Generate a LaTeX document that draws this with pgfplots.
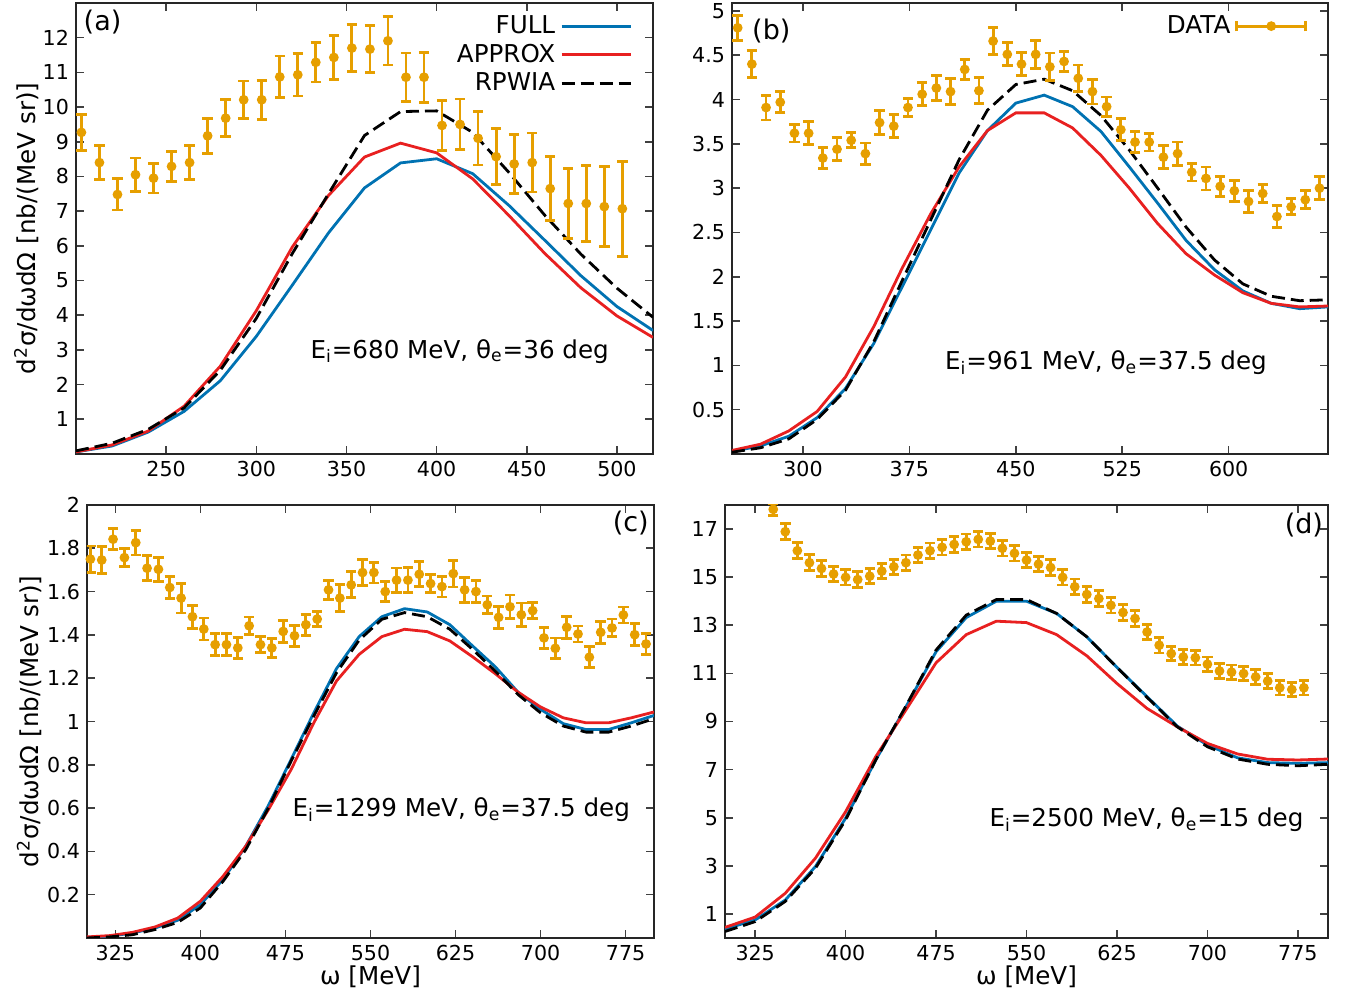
\documentclass[border=0pt]{standalone}
\usepackage{fontspec}
\setmainfont{DejaVu Sans}
\usepackage{pgfplots}
\pgfplotsset{compat=1.18}
\definecolor{cfull}{RGB}{0,114,178}
\definecolor{capprox}{RGB}{232,32,32}
\definecolor{cdata}{RGB}{230,159,0}
\tikzset{lab/.style={font=\fontsize{12.3}{14}\selectfont},
  plab/.style={font=\fontsize{13.5}{15}\selectfont}}
\pgfplotsset{
  myaxis/.style={
    scale only axis,
    axis line style={black!85, line width=0.9pt},
    tick style={black!75, line width=0.8pt},
    major tick length=4pt,
    tick align=inside,
    tick label style={font=\fontsize{10.3}{12}\selectfont},
    /pgf/number format/assume math mode=true,
    label style={font=\fontsize{12.3}{14}\selectfont},
    legend image code/.code={\draw[#1] (0pt,0pt) -- (34.5pt,0pt);},
    legend style={draw=none, fill=none, inner sep=0pt, outer sep=0pt,
      font=\fontsize{12.3}{14}\selectfont, row sep=-1.2pt,
      nodes={inner sep=2.5pt}},
    legend plot pos=right, legend cell align=right,
  },
  curve/.style={line width=1.4pt, no marks},
  full/.style={curve, cfull},
  approx/.style={curve, capprox},
  rpwia/.style={curve, black, dash pattern=on 6.5pt off 3pt},
  data/.style={cdata, only marks, mark=*, mark size=1.7pt, line width=1.4pt,
     mark options={solid, fill=cdata, draw=cdata},
     error bars/y dir=both, error bars/y explicit,
     error bars/error bar style={line width=1.4pt, cdata},
     error bars/error mark options={rotate=90, line width=1.4pt, mark size=2.6pt, cdata}},
}
\begin{document}
\begin{tikzpicture}
\useasboundingbox (0,0) rectangle (674pt,497pt);
%% (a)
\begin{axis}[myaxis, at={(38pt,270pt)}, anchor=south west, width=288.5pt, height=225.5pt,
  xmin=200, xmax=520, ymin=0, ymax=13,
  xtick={250,300,...,500}, ytick={1,2,...,12},
  ylabel={d\textsuperscript{2}σ/dωdΩ [nb/(MeV sr)]},
  ylabel style={at={(axis description cs:-0.086,0.5)}, anchor=center},
  legend style={at={(axis description cs:0.9636,0.983)}, anchor=north east},
]
\addplot[full] coordinates {(200,0.06)(220,0.23)(240,0.63)(260,1.23)(280,2.11)(300,3.39)(320,4.87)(340,6.37)(360,7.67)(380,8.39)(400,8.51)(420,8.08)(440,7.17)(460,6.16)(480,5.14)(500,4.25)(520,3.56)};
\addlegendentry{FULL}
\addplot[approx] coordinates {(200,0.06)(220,0.26)(240,0.66)(260,1.38)(280,2.53)(300,4.13)(320,5.97)(340,7.45)(360,8.56)(380,8.96)(400,8.68)(420,7.93)(440,6.88)(460,5.78)(480,4.79)(500,3.98)(520,3.36)};
\addlegendentry{APPROX}
\addplot[rpwia] coordinates {(200,0.09)(220,0.31)(240,0.71)(260,1.33)(280,2.41)(300,3.91)(320,5.78)(340,7.50)(360,9.18)(380,9.87)(400,9.89)(420,9.27)(440,8.12)(460,6.88)(480,5.76)(500,4.78)(520,3.94)};
\addlegendentry{RPWIA}
\addplot[data, forget plot] table[x=x, y=y, y error=e] {
x y e
203 9.27 0.52
213 8.40 0.49
223 7.48 0.45
233 8.05 0.48
243 7.95 0.43
253 8.29 0.43
263 8.40 0.49
273 9.17 0.50
283 9.68 0.53
293 10.21 0.54
303 10.21 0.56
313 10.87 0.60
323 10.93 0.61
333 11.29 0.57
343 11.43 0.64
353 11.70 0.67
363 11.67 0.68
373 11.91 0.70
383 10.86 0.70
393 10.86 0.72
403 9.47 0.72
413 9.50 0.73
423 9.10 0.77
433 8.57 0.81
443 8.36 0.85
453 8.40 0.85
463 7.65 0.93
473 7.22 1.01
483 7.22 1.09
493 7.13 1.15
503 7.07 1.37
};
\node[plab] at (axis description cs:0.046,0.958) {(a)};
\node[lab] at (axis description cs:0.665,0.228) {E\textsubscript{i}=680 MeV, θ\textsubscript{e}=36 deg};
\end{axis}
%% (b)
\begin{axis}[myaxis, at={(366pt,270pt)}, anchor=south west, width=298pt, height=225.5pt,
  xmin=250, xmax=670, ymin=0, ymax=5.09,
  xtick={300,375,450,525,600}, ytick={0.5,1,1.5,2,2.5,3,3.5,4,4.5,5},
  legend style={at={(axis description cs:0.965,0.983)}, anchor=north east},
]
\addplot[full, forget plot] coordinates {(250,0.03)(270,0.09)(290,0.20)(310,0.41)(330,0.74)(350,1.25)(370,1.89)(390,2.53)(410,3.17)(430,3.65)(450,3.96)(470,4.05)(490,3.92)(510,3.64)(530,3.24)(550,2.83)(570,2.41)(590,2.08)(610,1.84)(630,1.70)(650,1.64)(670,1.66)};
\addplot[approx, forget plot] coordinates {(250,0.04)(270,0.11)(290,0.26)(310,0.48)(330,0.87)(350,1.44)(370,2.10)(390,2.71)(410,3.24)(430,3.65)(450,3.85)(470,3.85)(490,3.68)(510,3.37)(530,3.00)(550,2.60)(570,2.26)(590,2.02)(610,1.82)(630,1.70)(650,1.66)(670,1.67)};
\addplot[rpwia, forget plot] coordinates {(250,0.02)(270,0.07)(290,0.17)(310,0.39)(330,0.72)(350,1.27)(370,1.96)(390,2.64)(410,3.32)(430,3.88)(450,4.17)(470,4.23)(490,4.10)(510,3.82)(530,3.43)(550,3.00)(570,2.56)(590,2.19)(610,1.92)(630,1.78)(650,1.73)(670,1.74)};
\addplot[data, legend image code/.code={
  \draw[cdata, line width=1.4pt] (0pt,0pt) -- (34.5pt,0pt);
  \draw[cdata, line width=1.4pt] (0pt,-2.6pt) -- (0pt,2.6pt) (34.5pt,-2.6pt) -- (34.5pt,2.6pt);
  \fill[cdata] (17.25pt,0pt) circle (1.7pt);}] table[x=x, y=y, y error=e] {
x y e
254 4.81 0.14
264 4.40 0.155
274 3.91 0.14
284 3.97 0.12
294 3.62 0.10
304 3.62 0.13
314 3.34 0.12
324 3.44 0.13
334 3.54 0.085
344 3.39 0.12
354 3.74 0.135
364 3.70 0.13
374 3.91 0.10
384 4.06 0.13
394 4.13 0.14
404 4.09 0.15
414 4.34 0.11
424 4.10 0.146
434 4.66 0.155
444 4.51 0.13
454 4.40 0.13
464 4.51 0.155
474 4.37 0.155
484 4.43 0.11
494 4.24 0.15
504 4.09 0.14
514 3.92 0.11
524 3.66 0.125
534 3.52 0.12
544 3.52 0.10
554 3.35 0.13
564 3.39 0.13
574 3.18 0.10
584 3.11 0.13
594 3.02 0.11
604 2.97 0.12
614 2.85 0.125
624 2.94 0.10
634 2.68 0.12
644 2.79 0.09
654 2.87 0.10
664 3.00 0.13
};
\addlegendentry{DATA}
\node[plab] at (axis description cs:0.066,0.937) {(b)};
\node[lab] at (axis description cs:0.6275,0.202) {E\textsubscript{i}=961 MeV, θ\textsubscript{e}=37.5 deg};
\end{axis}
%% (c)
\begin{axis}[myaxis, at={(43.5pt,28pt)}, anchor=south west, width=283.5pt, height=216.5pt,
  xmin=300, xmax=800, ymin=0, ymax=2,
  xtick={325,400,475,550,625,700,775}, ytick={0.2,0.4,0.6,0.8,1,1.2,1.4,1.6,1.8,2},
  ylabel={d\textsuperscript{2}σ/dωdΩ [nb/(MeV sr)]},
  ylabel style={at={(axis description cs:-0.102,0.5)}, anchor=center},
  xlabel={ω [MeV]},
  xlabel style={at={(axis description cs:0.5,-0.09)}, anchor=center},
]
\addplot[full] coordinates {(300,0.003)(320,0.008)(340,0.023)(360,0.046)(380,0.082)(400,0.154)(420,0.270)(440,0.424)(460,0.612)(480,0.825)(500,1.040)(520,1.244)(540,1.392)(560,1.484)(580,1.521)(600,1.506)(620,1.447)(640,1.349)(660,1.253)(680,1.136)(700,1.056)(720,0.990)(740,0.963)(760,0.963)(780,0.994)(800,1.028)};
\addplot[approx] coordinates {(300,0.005)(320,0.011)(340,0.026)(360,0.051)(380,0.092)(400,0.170)(420,0.285)(440,0.424)(460,0.593)(480,0.778)(500,0.994)(520,1.187)(540,1.310)(560,1.392)(580,1.426)(600,1.415)(620,1.372)(640,1.299)(660,1.221)(680,1.136)(700,1.067)(720,1.017)(740,0.994)(760,0.994)(780,1.017)(800,1.044)};
\addplot[rpwia] coordinates {(300,0.0)(320,0.005)(340,0.015)(360,0.039)(380,0.072)(400,0.139)(420,0.262)(440,0.408)(460,0.601)(480,0.817)(500,1.025)(520,1.225)(540,1.376)(560,1.472)(580,1.503)(600,1.484)(620,1.426)(640,1.333)(660,1.233)(680,1.125)(700,1.040)(720,0.979)(740,0.951)(760,0.951)(780,0.979)(800,1.013)};
\addplot[data] table[x=x, y=y, y error=e] {
x y e
303 1.750 0.061
313 1.746 0.063
323 1.842 0.048
333 1.757 0.042
343 1.826 0.057
353 1.708 0.058
363 1.703 0.055
373 1.619 0.052
383 1.570 0.069
393 1.484 0.053
403 1.427 0.051
413 1.355 0.051
423 1.355 0.051
433 1.340 0.048
443 1.442 0.041
453 1.355 0.036
463 1.340 0.043
473 1.416 0.050
483 1.396 0.048
493 1.447 0.048
503 1.473 0.035
513 1.608 0.045
523 1.570 0.061
533 1.631 0.060
543 1.688 0.060
553 1.688 0.048
563 1.600 0.046
573 1.653 0.056
583 1.653 0.059
593 1.680 0.058
603 1.637 0.042
613 1.623 0.048
623 1.683 0.062
633 1.608 0.058
643 1.600 0.052
653 1.539 0.041
663 1.481 0.050
673 1.530 0.054
683 1.493 0.054
693 1.512 0.037
703 1.386 0.050
713 1.338 0.048
723 1.435 0.050
733 1.404 0.037
743 1.297 0.048
753 1.412 0.050
763 1.432 0.041
773 1.492 0.037
783 1.401 0.050
793 1.358 0.048
};
\node[plab] at (axis description cs:0.959,0.958) {(c)};
\node[lab] at (axis description cs:0.66,0.296) {E\textsubscript{i}=1299 MeV, θ\textsubscript{e}=37.5 deg};
\end{axis}
%% (d)
\begin{axis}[myaxis, at={(362.5pt,28pt)}, anchor=south west, width=301.5pt, height=216.5pt,
  xmin=300, xmax=800, ymin=0, ymax=18,
  xtick={325,400,475,550,625,700,775}, ytick={1,3,...,17},
  xlabel={ω [MeV]},
  xlabel style={at={(axis description cs:0.5,-0.09)}, anchor=center},
]
\addplot[full] coordinates {(300,0.37)(325,0.75)(350,1.58)(375,2.97)(400,4.98)(425,7.40)(450,9.61)(475,11.90)(500,13.32)(525,14.00)(550,14.00)(575,13.49)(600,12.52)(625,11.25)(650,10.03)(675,8.81)(700,8.02)(725,7.49)(750,7.29)(775,7.26)(800,7.29)};
\addplot[approx] coordinates {(300,0.44)(325,0.87)(350,1.86)(375,3.32)(400,5.25)(425,7.54)(450,9.48)(475,11.44)(500,12.61)(525,13.17)(550,13.11)(575,12.61)(600,11.73)(625,10.58)(650,9.54)(675,8.78)(700,8.09)(725,7.65)(750,7.43)(775,7.40)(800,7.44)};
\addplot[rpwia] coordinates {(300,0.27)(325,0.68)(350,1.52)(375,2.90)(400,4.91)(425,7.40)(450,9.64)(475,11.97)(500,13.42)(525,14.07)(550,14.07)(575,13.49)(600,12.52)(625,11.25)(650,10.00)(675,8.78)(700,7.95)(725,7.44)(750,7.22)(775,7.16)(800,7.22)};
\addplot[data] table[x=x, y=y, y error=e] {
x y e
340 17.82 0.25
350 16.89 0.33
360 16.10 0.33
370 15.60 0.33
380 15.36 0.32
390 15.13 0.32
400 14.99 0.32
410 14.90 0.32
420 15.04 0.32
430 15.25 0.32
440 15.43 0.32
450 15.60 0.32
460 15.92 0.32
470 16.10 0.32
480 16.24 0.32
490 16.36 0.32
500 16.47 0.32
510 16.57 0.32
520 16.50 0.32
530 16.20 0.32
540 15.99 0.32
550 15.71 0.32
560 15.54 0.32
570 15.40 0.32
580 14.99 0.32
590 14.60 0.32
600 14.28 0.32
610 14.11 0.32
620 13.83 0.32
630 13.53 0.32
640 13.28 0.32
650 12.72 0.32
660 12.17 0.32
670 11.82 0.30
680 11.68 0.30
690 11.65 0.30
700 11.38 0.30
710 11.10 0.30
720 11.05 0.30
730 10.99 0.30
740 10.85 0.30
750 10.68 0.30
760 10.40 0.30
770 10.33 0.30
780 10.40 0.30
};
\node[plab] at (axis description cs:0.96,0.953) {(d)};
\node[lab] at (axis description cs:0.699,0.2725) {E\textsubscript{i}=2500 MeV, θ\textsubscript{e}=15 deg};
\end{axis}
\end{tikzpicture}
\end{document}
